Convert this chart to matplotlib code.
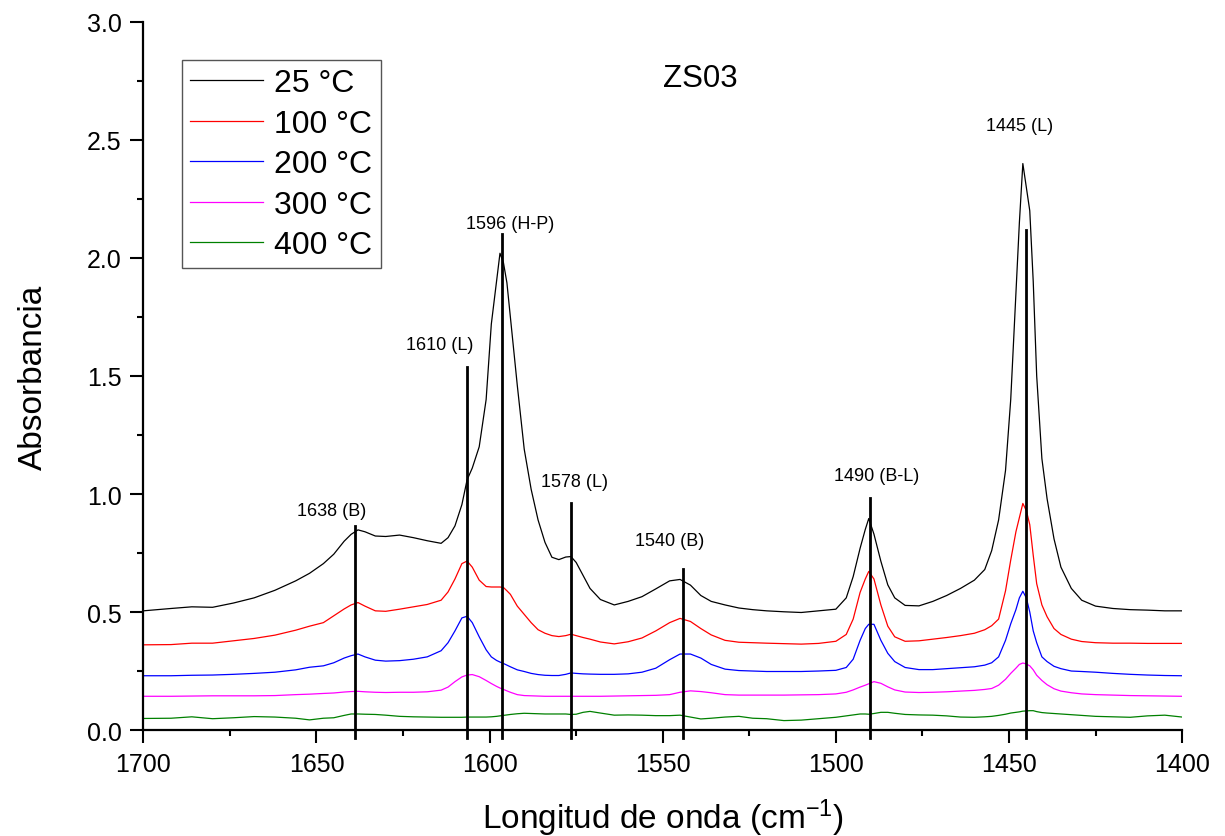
import matplotlib
matplotlib.use("Agg")
import matplotlib.pyplot as plt
from matplotlib.ticker import MultipleLocator

plt.rcParams['font.family'] = ['Liberation Sans', 'DejaVu Sans']
plt.rcParams['mathtext.default'] = 'regular'

# wavenumbers (cm-1)
wavenumber = [1700, 1692, 1686, 1680, 1674, 1668, 1662, 1656, 1652, 1648,
              1645, 1642, 1640, 1638, 1636, 1633, 1630, 1626, 1622, 1618,
              1614, 1612, 1610, 1608, 1606.5, 1605, 1603, 1601, 1599.5, 1598,
              1597, 1596, 1595, 1594, 1592, 1590, 1588, 1586, 1584, 1582,
              1580, 1578, 1576.5, 1575, 1573, 1571, 1568, 1564, 1560, 1556,
              1552, 1548, 1545, 1542, 1539, 1536, 1532, 1528, 1524, 1520,
              1515, 1510, 1505, 1500, 1497, 1495, 1493, 1491.5, 1490.5, 1489,
              1487, 1485, 1483, 1480, 1476, 1472, 1468, 1464, 1460, 1457,
              1455, 1453, 1451, 1449.5, 1448, 1447, 1446, 1445, 1444, 1443,
              1442, 1440.5, 1439, 1437, 1435, 1432, 1429, 1425, 1420, 1415,
              1410, 1405, 1400]

abs_25 = [0.505, 0.515, 0.522, 0.520, 0.538, 0.560, 0.592, 0.632, 0.664, 0.705,
          0.745, 0.800, 0.829, 0.848, 0.840, 0.822, 0.820, 0.826, 0.815, 0.802,
          0.791, 0.815, 0.865, 0.955, 1.06, 1.11, 1.20, 1.40, 1.72, 1.90,
          2.02, 1.98, 1.895, 1.75, 1.46, 1.19, 1.02, 0.89, 0.795, 0.732,
          0.722, 0.733, 0.735, 0.71, 0.655, 0.60, 0.553, 0.530, 0.545, 0.565,
          0.598, 0.632, 0.638, 0.614, 0.570, 0.545, 0.530, 0.517, 0.510, 0.505,
          0.501, 0.498, 0.505, 0.512, 0.560, 0.650, 0.770, 0.850, 0.896, 0.830,
          0.715, 0.615, 0.560, 0.528, 0.526, 0.545, 0.570, 0.600, 0.635, 0.680,
          0.760, 0.890, 1.10, 1.40, 1.85, 2.15, 2.40, 2.30, 2.20, 1.90,
          1.50, 1.15, 0.98, 0.81, 0.69, 0.60, 0.55, 0.525, 0.515, 0.510,
          0.508, 0.505, 0.505]

abs_100 = [0.361, 0.362, 0.368, 0.368, 0.378, 0.388, 0.402, 0.423, 0.440, 0.455,
           0.484, 0.513, 0.530, 0.540, 0.525, 0.505, 0.503, 0.512, 0.522, 0.532,
           0.550, 0.585, 0.64, 0.705, 0.716, 0.690, 0.635, 0.608, 0.606, 0.606,
           0.606, 0.604, 0.590, 0.575, 0.525, 0.490, 0.455, 0.425, 0.410, 0.400,
           0.396, 0.400, 0.406, 0.400, 0.392, 0.385, 0.373, 0.365, 0.374, 0.390,
           0.420, 0.455, 0.473, 0.460, 0.430, 0.403, 0.380, 0.372, 0.370, 0.368,
           0.366, 0.364, 0.367, 0.376, 0.405, 0.47, 0.583, 0.640, 0.672, 0.640,
           0.53, 0.44, 0.395, 0.376, 0.378, 0.385, 0.392, 0.400, 0.410, 0.425,
           0.442, 0.47, 0.59, 0.72, 0.84, 0.90, 0.96, 0.93, 0.87, 0.74,
           0.62, 0.53, 0.48, 0.43, 0.405, 0.385, 0.375, 0.37, 0.368, 0.368,
           0.367, 0.367, 0.367]

abs_200 = [0.230, 0.230, 0.232, 0.233, 0.236, 0.240, 0.245, 0.255, 0.266, 0.272,
           0.285, 0.305, 0.315, 0.322, 0.310, 0.296, 0.292, 0.294, 0.300, 0.310,
           0.336, 0.370, 0.420, 0.475, 0.482, 0.455, 0.395, 0.340, 0.310, 0.295,
           0.288, 0.282, 0.275, 0.268, 0.255, 0.248, 0.240, 0.235, 0.232, 0.231,
           0.231, 0.236, 0.242, 0.240, 0.238, 0.237, 0.236, 0.236, 0.238, 0.245,
           0.262, 0.298, 0.322, 0.322, 0.305, 0.278, 0.258, 0.252, 0.250, 0.248,
           0.248, 0.248, 0.250, 0.253, 0.265, 0.300, 0.380, 0.430, 0.448, 0.448,
           0.38, 0.325, 0.29, 0.265, 0.256, 0.256, 0.260, 0.264, 0.268, 0.275,
           0.285, 0.31, 0.38, 0.45, 0.51, 0.56, 0.588, 0.56, 0.50, 0.42,
           0.37, 0.31, 0.29, 0.27, 0.26, 0.25, 0.248, 0.245, 0.240, 0.236,
           0.233, 0.231, 0.230]

abs_300 = [0.143, 0.143, 0.144, 0.145, 0.145, 0.145, 0.146, 0.150, 0.152, 0.155,
           0.157, 0.161, 0.163, 0.164, 0.162, 0.160, 0.159, 0.160, 0.160, 0.162,
           0.169, 0.182, 0.205, 0.225, 0.233, 0.235, 0.226, 0.210, 0.197, 0.185,
           0.178, 0.172, 0.166, 0.160, 0.150, 0.146, 0.145, 0.144, 0.143, 0.143,
           0.143, 0.143, 0.143, 0.143, 0.143, 0.143, 0.143, 0.144, 0.145, 0.146,
           0.147, 0.150, 0.160, 0.166, 0.163, 0.158, 0.150, 0.148, 0.148, 0.148,
           0.148, 0.149, 0.150, 0.153, 0.160, 0.170, 0.182, 0.190, 0.196, 0.205,
           0.198, 0.183, 0.170, 0.161, 0.159, 0.160, 0.162, 0.165, 0.168, 0.172,
           0.176, 0.190, 0.215, 0.240, 0.262, 0.278, 0.284, 0.280, 0.272, 0.255,
           0.232, 0.210, 0.192, 0.175, 0.165, 0.158, 0.153, 0.150, 0.148, 0.146,
           0.145, 0.144, 0.143]

abs_400 = [0.049, 0.050, 0.056, 0.048, 0.052, 0.057, 0.055, 0.050, 0.043, 0.050,
           0.052, 0.062, 0.068, 0.068, 0.067, 0.066, 0.063, 0.058, 0.056, 0.055,
           0.054, 0.054, 0.054, 0.054, 0.055, 0.055, 0.055, 0.055, 0.056, 0.058,
           0.060, 0.062, 0.064, 0.066, 0.069, 0.071, 0.070, 0.069, 0.068, 0.068,
           0.068, 0.068, 0.066, 0.067, 0.075, 0.079, 0.072, 0.063, 0.064, 0.063,
           0.061, 0.061, 0.063, 0.055, 0.047, 0.050, 0.055, 0.058, 0.050, 0.048,
           0.040, 0.042, 0.048, 0.054, 0.060, 0.064, 0.068, 0.068, 0.067, 0.070,
           0.075, 0.075, 0.071, 0.066, 0.064, 0.063, 0.060, 0.055, 0.054, 0.056,
           0.058, 0.062, 0.067, 0.072, 0.075, 0.077, 0.080, 0.081, 0.082, 0.082,
           0.078, 0.074, 0.072, 0.070, 0.068, 0.065, 0.062, 0.058, 0.056, 0.054,
           0.060, 0.063, 0.055]

series_labels = ["25 °C", "100 °C", "200 °C", "300 °C", "400 °C"]
series_colors = ["black", "red", "blue", "magenta", "green"]

# band markers: line position, line top, label text, label centre
band_wn = [1638.9, 1606.6, 1596.4, 1576.5, 1544.2, 1490.0, 1445.2]
band_top = [0.864, 1.54, 2.10, 0.96, 0.684, 0.985, 2.12]
band_text = ["1638 (B)", "1610 (L)", "1596 (H-P)", "1578 (L)", "1540 (B)", "1490 (B-L)", "1445 (L)"]
band_text_x = [1645.6, 1614.5, 1594.1, 1575.5, 1547.9, 1488.2, 1447.0]
band_text_y = [0.93, 1.633, 2.148, 1.055, 0.801, 1.077, 2.56]

fig = plt.figure(figsize=(12.25, 8.37), dpi=100)
ax = fig.add_axes([0.117, 0.1266, 0.848, 0.846])

all_abs = [abs_25, abs_100, abs_200, abs_300, abs_400]
for vals, lab, col in zip(all_abs, series_labels, series_colors):
    ax.plot(wavenumber, vals, color=col, lw=0.9, label=lab)

for wn, top in zip(band_wn, band_top):
    ax.plot([wn, wn], [-0.035, top], color="black", lw=2.0, clip_on=False)
for txt, tx, ty in zip(band_text, band_text_x, band_text_y):
    ax.text(tx, ty, txt, fontsize=13, ha="center", va="center")

ax.text(1539.2, 2.762, "ZS03", fontsize=22.5, ha="center", va="center")

ax.set_xlim(1700, 1400)
ax.set_ylim(0, 3.0)
ax.xaxis.set_major_locator(MultipleLocator(50))
ax.xaxis.set_minor_locator(MultipleLocator(25))
ax.yaxis.set_major_locator(MultipleLocator(0.5))
ax.yaxis.set_minor_locator(MultipleLocator(0.25))
ax.tick_params(which="major", direction="out", length=9.5, width=1.5, labelsize=18, pad=6)
ax.tick_params(which="minor", direction="out", length=4.5, width=1.5)
for side in ["top", "right"]:
    ax.spines[side].set_visible(False)
for side in ["left", "bottom"]:
    ax.spines[side].set_linewidth(1.6)

ax.set_xlabel("Longitud de onda (cm$^{-1}$)", fontsize=24, labelpad=15)
ax.set_ylabel("Absorbancia", fontsize=24, labelpad=27)

leg = ax.legend(loc="upper left", bbox_to_anchor=(0.037, 0.946), borderaxespad=0,
                fontsize=23, handlelength=2.3, handletextpad=0.35, labelspacing=0.33,
                borderpad=0.25, fancybox=False, framealpha=1, edgecolor="#555555")
leg.get_frame().set_linewidth(1.0)

fig.savefig("out.png", dpi=100)
